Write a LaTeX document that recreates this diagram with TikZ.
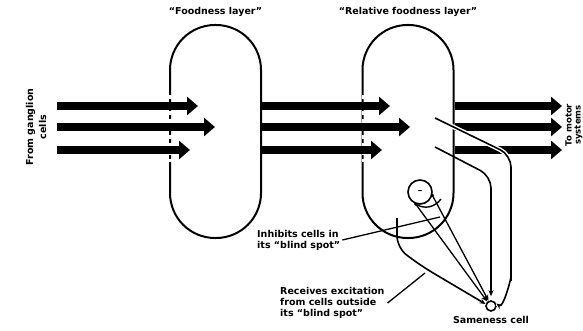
\documentclass[tikz,border=0pt]{standalone}
\usepackage{fontspec}
\setmainfont{DejaVu Sans}
\usetikzlibrary{arrows.meta,positioning,calc}

\begin{document}
\begin{tikzpicture}[x=1pt,y=-1pt,
  layer/.style={draw, line width=2pt, rounded corners=45pt,
                minimum width=91pt, minimum height=213pt, inner sep=0pt},
  fat/.style={line width=7.5pt, -{Triangle[length=11pt,width=18pt]}},
  wire/.style={line width=1.6pt, rounded corners=12pt},
  halo/.style={preaction={draw, white, line width=4.5pt, -}},
  tip/.style={-{Stealth[length=6pt,width=5pt]}},
  gap/.style={white, line width=3pt, dash pattern=on 4pt off 4pt},
  lbl/.style={font=\bfseries\fontsize{9.5}{11}\selectfont, align=left, inner sep=0pt},
  ttl/.style={font=\bfseries\fontsize{9.5}{11}\selectfont, inner sep=0pt}
]
  \useasboundingbox (0,0) rectangle (583,331);

  \node[layer] (food) at (215.5,131.5) {};
  \node[layer] (rel)  at (408,131.5) {};
  \node[ttl, above=7pt of food] (foodttl) {``Foodness layer''};
  \node[ttl, above=7pt of rel]  (relttl)  {``Relative foodness layer''};

  \draw[gap] (170,95) -- (170,162);
  \draw[gap] (363,95) -- (363,162);

  \node[lbl, rotate=90, align=center] (src) at (36,127) {From ganglion\\[2pt]cells};
  \node[lbl, rotate=90, align=center, font=\bfseries\fontsize{8.5}{9}\selectfont] (motor) at (574,125) {To motor\\systems};

  \foreach \y/\a/\b in {106/198/390, 127/215/410, 150/190/382} {
    \draw[fat] (57,\y) -- (\a,\y);
    \draw[fat] (food.east |- 0,\y) -- (\b,\y);
    \draw[fat] (rel.east |- 0,\y) -- (562,\y);
  }

  \node[draw, circle, line width=1.6pt, minimum size=24pt, inner sep=0pt] (inh) at (420,192) {};
  \node[font=\bfseries\small, inner sep=0pt] (minus) at (inh) {--};
  \node[draw, circle, line width=1.6pt, minimum size=10pt, inner sep=0pt] (same) at (491,306) {};
  \node[lbl, below=4pt of same, align=center] (samettl) {Sameness cell};

  \draw[wire, halo, tip] (435,118) -- (511,155) -- (511,288)
    to[out=90, in=-35] (same.25);
  \draw[wire, tip, shorten >=4pt] (435,147) -- (491,176) -- (same.north);
  \draw[line width=1.4pt] (inh.-110) .. controls (425,210) and (435,207) .. (441,199);
  \draw[line width=1.3pt, tip] (inh.-110) -- (same.130);
  \draw[line width=1.3pt, tip] (inh.-15) -- (same.115);
  \fill (inh.-110) circle (1.8pt);
  \fill (inh.-15) circle (1.8pt);
  \draw[wire, tip] (397,218) -- (397,248) -- (423,267) -- (same.160);

  \node[lbl, anchor=west] (inhtxt) at (257,240) {Inhibits cells in\\its ``blind spot''};
  \node[lbl, anchor=west] (recvtxt) at (280,303) {Receives excitation\\from cells outside\\its ``blind spot''};
  \coordinate (inhend) at (440,217);
  \coordinate (recvend) at (425,273);
  \draw[line width=1.3pt] ([xshift=2pt]inhtxt.east) -- (inhend);
  \draw[line width=1.3pt] ([xshift=3pt]recvtxt.east) -- (recvend);
\end{tikzpicture}
\end{document}
